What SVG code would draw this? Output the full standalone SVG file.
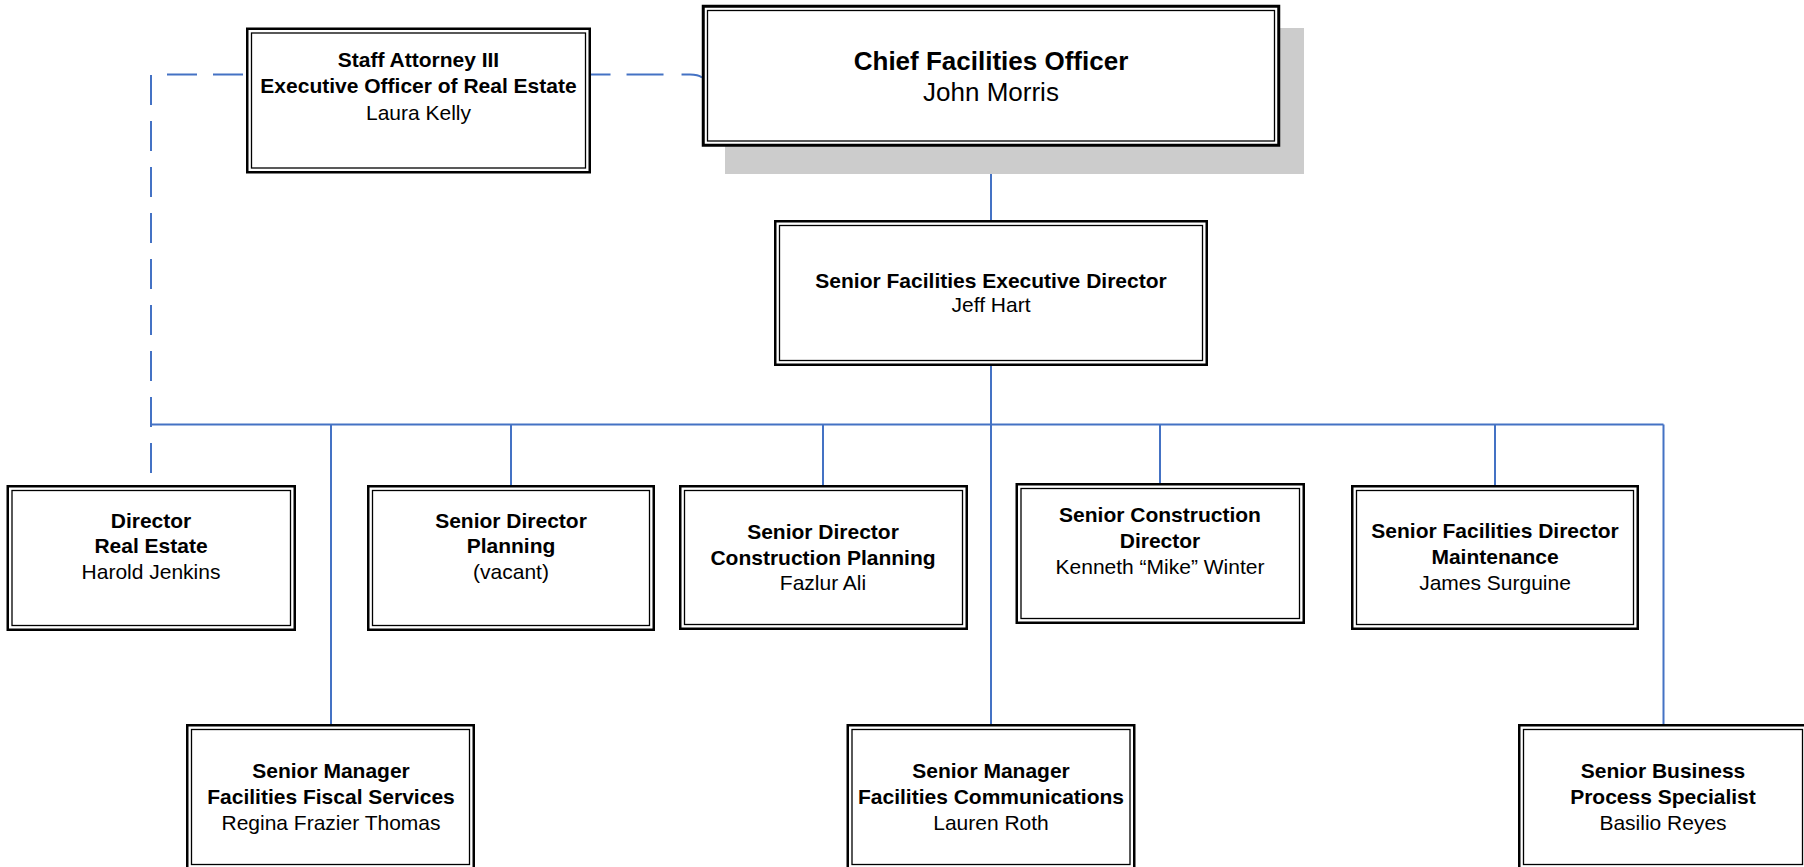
<svg xmlns="http://www.w3.org/2000/svg" width="1804" height="867" viewBox="0 0 1804 867">
  <style>
    .outer { fill: #ffffff; stroke: #000000; stroke-width: 2.5; }
    .inner { fill: none; stroke: #000000; stroke-width: 1.3; }
    .shadow { fill: #cccccc; stroke: none; }
    .conn { fill: none; stroke: #4472c4; stroke-width: 2; }
    .dash { stroke-dasharray: 30 16; }
    text { font-family: "Liberation Sans", Arial, sans-serif; font-size: 21px; fill: #000000; text-anchor: middle; }
    .b { font-weight: bold; }
    .big { font-size: 26px; }
  </style>
  <rect width="1804" height="867" fill="#ffffff"/>

  <g id="connectors">
    <path class="conn" d="M991,146 V220"/>
    <path class="conn" d="M991,366 V424.5"/>
    <path class="conn" d="M151,424.5 H1663.5"/>
    <path class="conn" d="M331,424.5 V724"/>
    <path class="conn" d="M511,424.5 V485"/>
    <path class="conn" d="M823,424.5 V485"/>
    <path class="conn" d="M991,424.5 V724"/>
    <path class="conn" d="M1160,424.5 V483"/>
    <path class="conn" d="M1495,424.5 V485"/>
    <path class="conn" d="M1663.5,424.5 V724"/>
    <path class="conn dash" d="M243,74.5 H151"/>
    <path class="conn dash" d="M151,75 V485"/>
    <path class="conn" style="stroke-dasharray: 21 18 37 16 20" d="M702,77.5 Q698,74.5 690,74.5 H591"/>
  </g>

  <g id="staff-attorney">
    <rect class="outer" x="247.25" y="28.75" width="342.5" height="143.5"/>
    <rect class="inner" x="251.5" y="33" width="334" height="135"/>
    <text class="b" x="418.5" y="66.5">Staff Attorney III</text>
    <text class="b" x="418.5" y="93">Executive Officer of Real Estate</text>
    <text x="418.5" y="120">Laura Kelly</text>
  </g>

  <g id="chief-facilities-officer">
    <rect class="shadow" x="725" y="28" width="579" height="146"/>
    <rect class="outer" x="703.25" y="6.25" width="575.5" height="139" style="stroke-width:3"/>
    <rect class="inner" x="707.5" y="10.5" width="567" height="130.5"/>
    <text class="b big" x="991" y="69.5">Chief Facilities Officer</text>
    <text class="big" x="991" y="101">John Morris</text>
  </g>

  <g id="senior-facilities-executive-director">
    <rect class="outer" x="775.25" y="221.25" width="431.5" height="143.5"/>
    <rect class="inner" x="779.5" y="225.5" width="423" height="135"/>
    <text class="b" x="991" y="287.5">Senior Facilities Executive Director</text>
    <text x="991" y="312">Jeff Hart</text>
  </g>

  <g id="director-real-estate">
    <rect class="outer" x="7.75" y="486.25" width="287" height="143.5"/>
    <rect class="inner" x="12" y="490.5" width="278.5" height="135"/>
    <text class="b" x="151" y="527.5">Director</text>
    <text class="b" x="151" y="553">Real Estate</text>
    <text x="151" y="579">Harold Jenkins</text>
  </g>

  <g id="senior-director-planning">
    <rect class="outer" x="368.25" y="486.25" width="285.5" height="143.5"/>
    <rect class="inner" x="372.5" y="490.5" width="277" height="135"/>
    <text class="b" x="511" y="527.5">Senior Director</text>
    <text class="b" x="511" y="553">Planning</text>
    <text x="511" y="579">(vacant)</text>
  </g>

  <g id="senior-director-construction-planning">
    <rect class="outer" x="680.25" y="486.25" width="286.5" height="142.5"/>
    <rect class="inner" x="684.5" y="490.5" width="278" height="134"/>
    <text class="b" x="823" y="538.5">Senior Director</text>
    <text class="b" x="823" y="565">Construction Planning</text>
    <text x="823" y="590">Fazlur Ali</text>
  </g>

  <g id="senior-construction-director">
    <rect class="outer" x="1016.75" y="484.25" width="287" height="138.5"/>
    <rect class="inner" x="1021" y="488.5" width="278.5" height="130"/>
    <text class="b" x="1160" y="521.5">Senior Construction</text>
    <text class="b" x="1160" y="547.5">Director</text>
    <text x="1160" y="573.5">Kenneth “Mike” Winter</text>
  </g>

  <g id="senior-facilities-director-maintenance">
    <rect class="outer" x="1352.25" y="486.25" width="285.5" height="142.5"/>
    <rect class="inner" x="1356.5" y="490.5" width="277" height="134"/>
    <text class="b" x="1495" y="538">Senior Facilities Director</text>
    <text class="b" x="1495" y="564">Maintenance</text>
    <text x="1495" y="590">James Surguine</text>
  </g>

  <g id="senior-manager-fiscal">
    <rect class="outer" x="187.25" y="725.25" width="286.5" height="143.5"/>
    <rect class="inner" x="191.5" y="729.5" width="278" height="135"/>
    <text class="b" x="331" y="778">Senior Manager</text>
    <text class="b" x="331" y="803.5">Facilities Fiscal Services</text>
    <text x="331" y="829.5">Regina Frazier Thomas</text>
  </g>

  <g id="senior-manager-communications">
    <rect class="outer" x="847.75" y="725.25" width="286.5" height="143.5"/>
    <rect class="inner" x="852" y="729.5" width="278" height="135"/>
    <text class="b" x="991" y="778">Senior Manager</text>
    <text class="b" x="991" y="803.5">Facilities Communications</text>
    <text x="991" y="829.5">Lauren Roth</text>
  </g>

  <g id="senior-business-process-specialist">
    <rect class="outer" x="1519.25" y="725.25" width="287.5" height="143.5"/>
    <rect class="inner" x="1523.5" y="729.5" width="279" height="135"/>
    <text class="b" x="1663" y="778">Senior Business</text>
    <text class="b" x="1663" y="804">Process Specialist</text>
    <text x="1663" y="830">Basilio Reyes</text>
  </g>
</svg>
